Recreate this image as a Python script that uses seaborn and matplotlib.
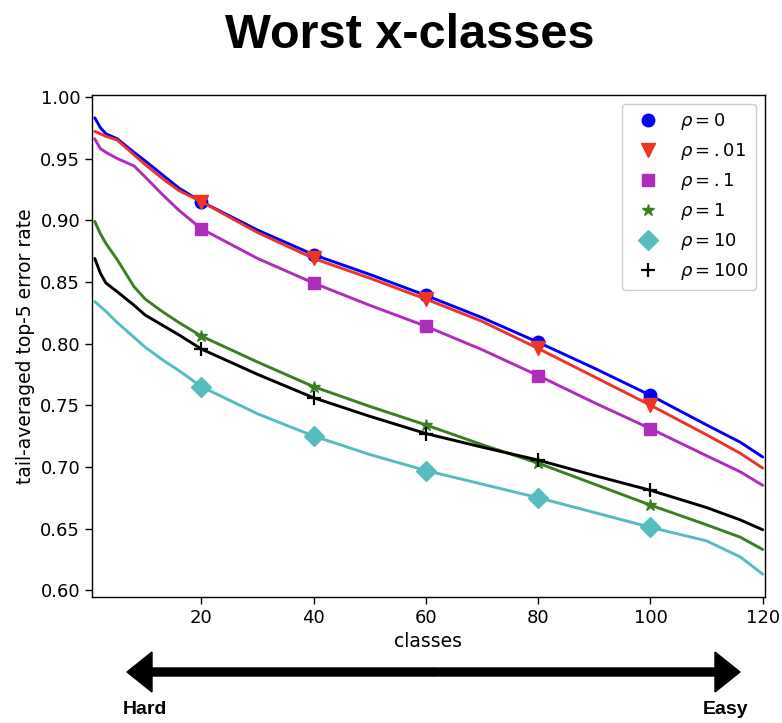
import matplotlib
matplotlib.use("Agg")
from matplotlib import pyplot as plt
from matplotlib.patches import FancyArrow
import seaborn as sb
import pandas as pd

# values
classes = [1, 2, 3, 5, 8, 10, 13, 16, 20, 30, 40, 50, 60, 70, 80, 90, 100, 110, 116, 120]
rho_0 = [0.983, 0.975, 0.970, 0.966, 0.955, 0.948, 0.937, 0.926, 0.915, 0.892, 0.872,
         0.856, 0.839, 0.821, 0.801, 0.780, 0.758, 0.734, 0.720, 0.708]
rho_001 = [0.972, 0.970, 0.968, 0.965, 0.953, 0.945, 0.934, 0.924, 0.915, 0.890, 0.869,
           0.853, 0.836, 0.818, 0.796, 0.773, 0.750, 0.726, 0.711, 0.699]
rho_01 = [0.966, 0.958, 0.955, 0.950, 0.944, 0.935, 0.921, 0.908, 0.893, 0.869, 0.849,
          0.831, 0.814, 0.795, 0.774, 0.752, 0.731, 0.709, 0.696, 0.685]
rho_1 = [0.899, 0.889, 0.881, 0.868, 0.846, 0.836, 0.826, 0.817, 0.806, 0.785, 0.765,
         0.749, 0.734, 0.718, 0.703, 0.686, 0.669, 0.653, 0.643, 0.633]
rho_10 = [0.834, 0.830, 0.826, 0.817, 0.805, 0.797, 0.787, 0.778, 0.765, 0.743, 0.725,
          0.710, 0.697, 0.686, 0.675, 0.663, 0.651, 0.640, 0.627, 0.613]
rho_100 = [0.869, 0.857, 0.849, 0.842, 0.831, 0.823, 0.815, 0.807, 0.7955, 0.775, 0.756,
           0.741, 0.727, 0.716, 0.7055, 0.693, 0.681, 0.667, 0.657, 0.649]
marker_classes = [20, 40, 60, 80, 100]

labels = [r'$\rho=0$', r'$\rho=.01$', r'$\rho=.1$', r'$\rho=1$', r'$\rho=10$', r'$\rho=100$']
series = [rho_0, rho_001, rho_01, rho_1, rho_10, rho_100]
colors = ['#0000ff', '#ee3424', '#ae2dbd', '#3b7f24', '#55bcbf', '#000000']
markers = ['o', 'v', 's', '*', 'D', '+']
msizes = [9, 10, 9, 9, 10, 10]

sb.set_style("ticks")
plt.rcParams['font.family'] = ['DejaVu Sans']
plt.rcParams['axes.edgecolor'] = 'black'
plt.rcParams['axes.labelcolor'] = 'black'
plt.rcParams['text.color'] = 'black'
plt.rcParams['xtick.color'] = 'black'
plt.rcParams['ytick.color'] = 'black'
plt.rcParams['mathtext.fontset'] = 'dejavusans'

fig = plt.figure(figsize=(7.82, 7.23), dpi=100)
ax = fig.add_axes([0.1176, 0.1743, 0.8606, 0.6943])

for lab, vals, c, m, ms in zip(labels, series, colors, markers, msizes):
    d = pd.DataFrame({'classes': classes, 'err': vals})
    sb.lineplot(data=d, x='classes', y='err', color=c, linewidth=2.1, ax=ax)
    pts = d[d['classes'].isin(marker_classes)]
    ax.plot(pts['classes'], pts['err'], linestyle='none', marker=m, color=c,
            markersize=ms, markeredgewidth=1.6 if m == '+' else 1.0, label=lab)

ax.set_xlim(0.5, 120.4)
ax.set_xticks([20, 40, 60, 80, 100, 120])
ax.set_yticks([0.60, 0.65, 0.70, 0.75, 0.80, 0.85, 0.90, 0.95, 1.00])
ax.tick_params(labelsize=13, length=5, width=1)
ax.set_xlabel('classes', fontsize=13.5, labelpad=4)
ax.set_ylabel('tail-averaged top-5 error rate', fontsize=13.5)
for s in ax.spines.values():
    s.set_linewidth(1.0)
ax.legend(loc='upper right', fontsize=13, numpoints=1, framealpha=1)

# title, arrow and Hard/Easy
ov = fig.add_axes([0, 0, 1, 1])
ov.set_xlim(0, 782)
ov.set_ylim(723, 0)
ov.axis('off')
ov.patch.set_alpha(0)
mid = 433
ov.add_patch(FancyArrow(mid, 672, 127 - mid, 0, width=8, head_width=40, head_length=25,
                        length_includes_head=True, color='black'))
ov.add_patch(FancyArrow(mid, 672, 740 - mid, 0, width=8, head_width=40, head_length=25,
                        length_includes_head=True, color='black'))
ov.text(145, 710, 'Hard', ha='center', va='center', fontsize=14, fontweight='bold',
        family='Liberation Sans')
ov.text(726, 710, 'Easy', ha='center', va='center', fontsize=14, fontweight='bold',
        family='Liberation Sans')
ov.text(410, 35, 'Worst x-classes', ha='center', va='center', fontsize=35,
        fontweight='bold', family='Liberation Sans')

fig.savefig('out.png', dpi=100)
